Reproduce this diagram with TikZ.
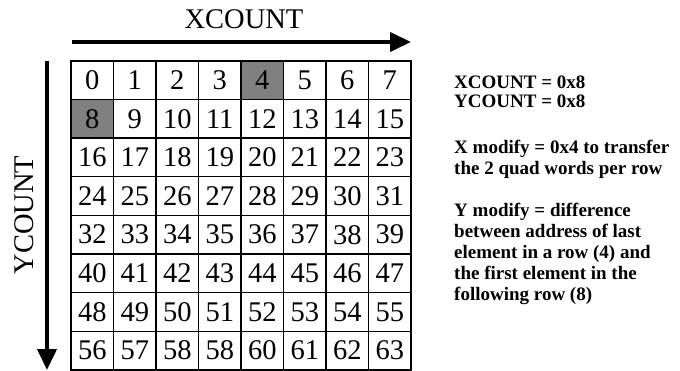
\documentclass[tikz,border=0pt]{standalone}
\usepackage{fontspec}
\setmainfont{Liberation Serif}
\usetikzlibrary{arrows.meta}
\definecolor{cellgray}{RGB}{128,128,128}
\begin{document}
\begin{tikzpicture}[x=1pt,y=-1pt,
  cellbox/.style={draw=black,line width=1.4pt,minimum width=42.5pt,minimum height=38.6pt,inner sep=0pt,anchor=center,font=\fontsize{28.5}{30}\selectfont},
  graycell/.style={cellbox,fill=cellgray},
  bigarrow/.style={line width=4pt,-{Triangle[length=21pt,width=19pt]}},
  label/.style={font=\fontsize{28.5}{30}\selectfont,inner sep=0pt},
  note/.style={font=\fontsize{19}{21}\selectfont\bfseries,anchor=base west,inner sep=0pt}]
\useasboundingbox (0,0) rectangle (680,371);
% grid
\foreach \r in {0,...,7}{
  \foreach \c in {0,...,7}{
    \pgfmathtruncatemacro{\n}{8*\r+\c}
    \pgfmathtruncatemacro{\lab}{\n==59 ? 58 : \n}
    \ifnum\n=4
      \node[graycell] (c\n) at ({71+42.5*\c+21.25},{61+38.6*\r+19.3}) {\lab};
    \else\ifnum\n=8
      \node[graycell] (c\n) at ({71+42.5*\c+21.25},{61+38.6*\r+19.3}) {\lab};
    \else
      \node[cellbox] (c\n) at ({71+42.5*\c+21.25},{61+38.6*\r+19.3}) {\lab};
    \fi\fi
  }
}
% arrows
\coordinate (xs) at (72,42);
\coordinate (xe) at (411,42);
\coordinate (ys) at (47,61);
\coordinate (ye) at (47,370);
\draw[bigarrow] (xs) -- (xe);
\draw[bigarrow] (ys) -- (ye);
\node[label] (xl) at (244,19) {XCOUNT};
\node[label,rotate=90] (yl) at (24,215) {YCOUNT};
% notes
\node[note] (n1) at (454,89) {XCOUNT = 0x8};
\node[note] (n2) at (454,108) {YCOUNT = 0x8};
\node[note] (n3) at (454,154) {X modify = 0x4 to transfer};
\node[note] (n4) at (454,175) {the 2 quad words per row};
\node[note] (n5) at (454,217) {Y modify = difference};
\node[note] (n6) at (454,238) {between address of last};
\node[note] (n7) at (454,259) {element in a row (4) and};
\node[note] (n8) at (454,280) {the first element in the};
\node[note] (n9) at (454,301) {following row (8)};
\end{tikzpicture}
\end{document}
